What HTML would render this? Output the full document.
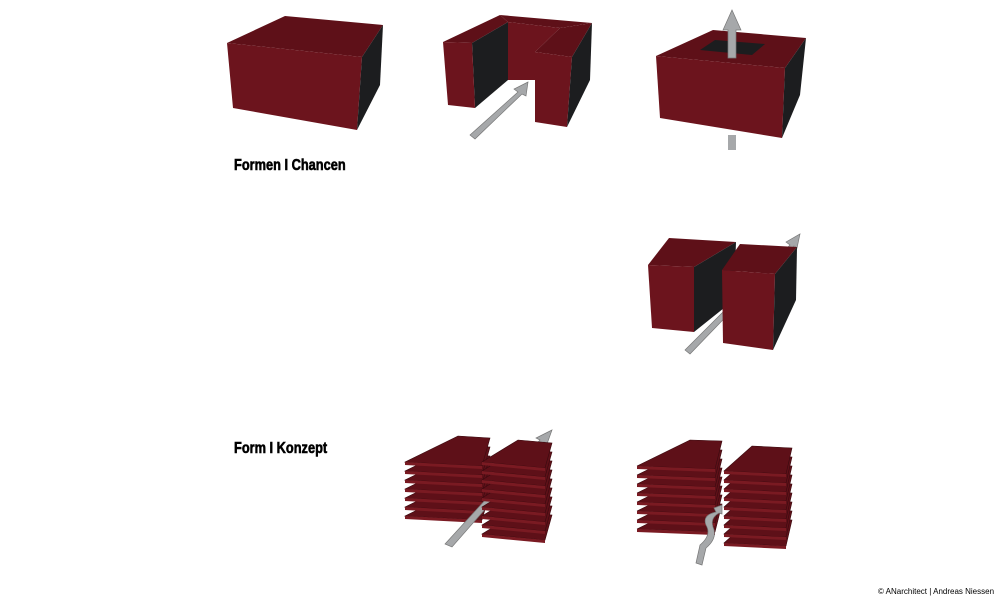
<!DOCTYPE html>
<html><head><meta charset="utf-8"><style>
html,body{margin:0;padding:0;background:#fff;}
.t{position:absolute;font-family:"Liberation Sans Narrow","Liberation Sans",sans-serif;font-weight:bold;font-size:16px;color:#000;transform-origin:0 0;transform:scaleX(0.8);white-space:nowrap;-webkit-text-stroke:0.6px #000;}
</style></head><body>
<div style="position:relative;width:1000px;height:600px;overflow:hidden">
<svg width="1000" height="600" style="position:absolute;left:0;top:0">
<defs>
<g id="pa"><polygon points="405,462 458,436 490,438 482,466" fill="#5e1018" stroke="#3a0a0f" stroke-width="0.6"/><polygon points="405,462 482,466 482,469 405,465" fill="#7a1a22"/></g>
<g id="pb"><polygon points="482,462 518,440 552,443 545,468" fill="#5e1018" stroke="#3a0a0f" stroke-width="0.6"/><polygon points="482,462 545,468 545,471 482,465" fill="#7a1a22"/></g>
<g id="pc"><polygon points="637,466 690,440 722,441 715,469" fill="#5e1018" stroke="#3a0a0f" stroke-width="0.6"/><polygon points="637,466 715,469 715,472 637,469" fill="#7a1a22"/></g>
<g id="pd"><polygon points="724,471 752,446 792,448 786,474" fill="#5e1018" stroke="#3a0a0f" stroke-width="0.6"/><polygon points="724,471 786,474 786,477 724,474" fill="#7a1a22"/></g>
</defs>
<!-- box 1 -->
<polygon points="227,43 285,16 383,25 362,57" fill="#5e1018"/>
<polygon points="227,43 362,57 357,130 233,108" fill="#6c141d"/>
<polygon points="362,57 383,25 380,85 357,130" fill="#1c1d1f"/>
<!-- box 2 -->
<polygon points="500,15 592,23 560,28 508,22" fill="#5e1018"/>
<polygon points="443,42 500,15 508,22 472,43" fill="#5e1018"/>
<polygon points="508,22 560,28 535,52 535,80 508,80" fill="#6c141d"/>
<polygon points="535,52 560,28 592,23 572,57" fill="#5e1018"/>
<polygon points="472,43 508,22 508,80 475,108" fill="#1c1d1f"/>
<polygon points="443,42 472,43 475,108 448,105" fill="#6c141d"/>
<polygon points="535,52 572,57 567,127 535,122" fill="#6c141d"/>
<polygon points="572,57 592,23 590,80 567,127" fill="#1c1d1f"/>
<polygon points="470,135 518,92 514,89 528,82 526,96 522,94 475,139" fill="#a6a8aa" stroke="#777" stroke-width="0.7"/>
<!-- box 3 -->
<polygon points="656,56 713,30 806,38 785,68" fill="#5e1018"/>
<polygon points="700,50 715,40 765,44 752,55" fill="#1c1d1f"/>
<polygon points="656,56 785,68 782,138 660,118" fill="#6c141d"/>
<polygon points="785,68 806,38 800,95 782,138" fill="#1c1d1f"/>
<polygon points="728,150 736,150 736,135 728,135" fill="#a6a8aa"/>
<polygon points="728,58 736,58 736,30 741,30 732,10 723,30 728,30" fill="#a6a8aa" stroke="#777" stroke-width="0.7"/>
<!-- middle pair -->
<polygon points="648,265 669,238 736,242 694,267" fill="#5e1018"/>
<polygon points="648,265 694,267 694,332 652,328" fill="#6c141d"/>
<polygon points="694,267 736,242 734,300 694,332" fill="#1c1d1f"/>
<polygon points="685,350 790,245 786,242 800,234 797,248 794,246 690,354" fill="#a6a8aa" stroke="#777" stroke-width="0.7"/>
<polygon points="722,270 740,244 797,247 775,274" fill="#5e1018"/>
<polygon points="722,270 775,274 773,350 723,343" fill="#6c141d"/>
<polygon points="775,274 797,247 796,300 773,350" fill="#1c1d1f"/>
<!-- bottom left stacks -->
<use href="#pa" y="54"/><use href="#pa" y="45"/><use href="#pa" y="36"/><use href="#pa" y="27"/><use href="#pa" y="18"/><use href="#pa" y="9"/><use href="#pa"/>
<polygon points="445,544 540,440 536,438 552,430 547,444 544,442 452,547" fill="#a6a8aa" stroke="#777" stroke-width="0.7"/>
<use href="#pb" y="72"/><use href="#pb" y="63"/><use href="#pb" y="54"/><use href="#pb" y="45"/><use href="#pb" y="36"/><use href="#pb" y="27"/><use href="#pb" y="18"/><use href="#pb" y="9"/><use href="#pb"/>
<!-- bottom right stacks -->
<use href="#pc" y="63"/><use href="#pc" y="54"/><use href="#pc" y="45"/><use href="#pc" y="36"/><use href="#pc" y="27"/><use href="#pc" y="18"/><use href="#pc" y="9"/><use href="#pc"/>
<use href="#pd" y="72"/><use href="#pd" y="63"/><use href="#pd" y="54"/><use href="#pd" y="45"/><use href="#pd" y="36"/><use href="#pd" y="27"/><use href="#pd" y="18"/><use href="#pd" y="9"/><use href="#pd"/>
<path d="M696,563 L700,545 Q712,535 706,525 Q702,515 716,512 L714,508 L722,505 L722,514 L719,513 Q710,518 713,527 Q718,538 706,548 L702,565 Z" fill="#a6a8aa" stroke="#777" stroke-width="0.7"/>
</svg>
<div class="t" style="left:234px;top:157px">Formen I Chancen</div>
<div class="t" style="left:234px;top:440px">Form I Konzept</div>
<div style="position:absolute;left:878px;top:587px;font-family:'Liberation Sans',sans-serif;font-size:8px;color:#000">© ANarchitect | Andreas Niessen</div>
</div>
</body></html>
